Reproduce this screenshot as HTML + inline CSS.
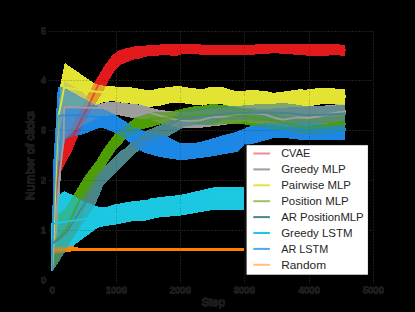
<!DOCTYPE html>
<html><head><meta charset="utf-8"><title>chart</title>
<style>
html,body{margin:0;padding:0;background:#000;}
body{width:415px;height:312px;overflow:hidden;font-family:"Liberation Sans",sans-serif;}
svg{display:block}
svg text{font-family:"Liberation Sans",sans-serif;}
</style></head><body>
<svg width="415" height="312" viewBox="0 0 415 312">
<defs>
<filter id="drop" color-interpolation-filters="sRGB" filterUnits="userSpaceOnUse" x="0" y="0" width="415" height="312">
<feComponentTransfer><feFuncA type="linear" slope="255" intercept="0"/></feComponentTransfer>
</filter>
<clipPath id="ax"><rect x="51.9" y="31.2" width="321.6" height="249.6"/></clipPath>
</defs>
<rect width="415" height="312" fill="#000"/>
<g filter="url(#drop)">
<g clip-path="url(#ax)" shape-rendering="crispEdges">
<polygon points="52.0,271.0 52.5,230.0 54.0,200.0 56.0,170.0 60.0,150.0 65.0,138.0 72.0,125.0 80.0,110.0 85.0,100.0 93.0,85.0 97.5,77.5 105.0,65.0 112.5,55.0 118.0,51.0 125.0,48.5 134.0,46.5 140.0,45.9 163.0,44.3 181.7,44.3 198.6,44.0 204.0,45.1 215.0,45.0 238.0,45.0 255.0,44.5 275.0,43.8 300.0,44.0 315.0,44.0 339.0,44.0 341.0,45.3 345.3,45.3 345.3,56.2 341.0,56.2 339.0,55.0 315.0,56.2 300.0,55.0 275.0,53.2 255.0,54.5 238.0,55.0 215.0,55.0 204.0,55.1 192.5,53.6 181.7,54.4 177.0,55.9 163.0,55.1 155.4,55.9 144.6,56.7 140.0,58.5 134.0,59.5 127.0,62.2 120.0,65.0 112.5,73.8 102.5,92.5 90.0,113.0 78.6,135.0 71.3,152.5 67.0,160.0 59.6,175.0 57.0,200.0 54.0,250.0 52.0,271.0" fill="#e41a1c" fill-opacity="0.5"/>
<polygon points="52.0,271.0 53.0,240.0 55.0,200.0 57.0,160.0 60.0,120.0 64.1,81.7 79.2,89.2 87.0,97.0 95.6,104.8 104.0,102.6 112.6,101.5 123.4,103.0 138.9,104.6 148.1,106.9 159.0,109.8 172.0,111.4 175.0,112.0 190.0,112.0 210.0,109.0 224.0,108.0 244.0,106.0 288.0,107.0 320.0,106.0 345.3,103.5 345.3,120.0 320.0,125.0 288.0,127.0 244.0,122.0 224.0,125.0 206.0,127.0 200.0,128.1 190.9,128.3 181.0,128.5 160.0,123.0 150.0,120.0 130.9,117.7 115.4,114.7 100.0,116.7 90.0,122.0 75.0,130.0 64.7,140.0 63.3,148.0 59.6,175.0 57.8,196.0 55.0,250.0 52.0,271.0" fill="#9e9e9e" fill-opacity="0.5"/>
<polygon points="52.0,271.0 53.0,230.0 55.0,180.0 57.0,135.0 59.0,104.0 60.5,84.0 64.8,63.0 80.0,73.5 95.0,83.8 103.0,85.5 110.0,86.2 117.3,86.7 131.0,87.4 149.7,90.5 159.0,88.2 172.0,86.7 178.2,85.9 187.4,87.4 202.9,89.3 209.0,87.1 222.9,87.1 236.0,91.3 238.0,91.2 249.9,90.2 256.0,90.2 266.9,91.3 273.0,92.8 282.3,91.8 293.1,90.2 300.0,89.3 305.0,89.7 310.0,89.3 319.0,87.9 334.6,87.9 336.0,89.0 345.3,89.0 345.3,105.4 334.0,104.2 320.0,104.5 308.0,106.5 300.0,106.7 290.0,107.3 282.3,107.8 266.9,109.0 251.4,108.3 244.0,107.5 236.0,107.5 229.1,106.7 221.4,104.1 210.6,103.6 202.9,105.6 190.5,104.4 181.3,102.9 172.0,102.9 157.4,106.3 148.1,106.7 138.9,104.4 123.4,102.9 112.6,101.0 104.0,102.1 95.6,104.8 80.0,106.5 64.8,107.5 60.0,130.0 58.0,170.0 56.0,220.0 54.0,255.0 52.0,271.0" fill="#e4e433" fill-opacity="0.5"/>
<polygon points="52.0,230.0 56.7,214.5 65.3,208.7 72.9,196.0 84.9,176.0 96.0,161.5 103.5,149.0 117.0,130.9 128.5,123.1 135.5,117.5 146.3,114.0 154.0,112.0 160.0,111.7 169.3,111.9 175.4,110.3 181.3,109.0 190.9,106.8 195.1,106.2 203.0,105.8 211.0,104.2 224.0,104.8 238.0,107.0 255.0,110.0 270.0,113.0 288.0,116.0 303.0,117.5 320.0,117.6 334.0,116.5 345.3,116.0 345.3,132.0 334.0,132.5 320.0,133.7 303.0,134.0 288.0,132.0 275.0,130.0 264.0,128.0 254.9,126.5 244.0,124.2 224.0,123.5 211.0,125.5 200.0,124.0 190.0,122.5 180.0,122.0 167.0,123.5 160.0,124.5 154.6,126.0 141.7,129.3 126.2,138.6 116.0,149.5 105.4,165.6 98.9,176.0 87.2,203.0 80.0,226.0 68.0,245.0 58.0,261.5 52.0,271.5" fill="#4e9e05" fill-opacity="0.5"/>
<polygon points="52.0,232.0 60.0,226.0 70.0,214.0 80.2,199.0 89.8,186.0 95.8,176.0 105.4,165.6 122.0,150.0 125.5,148.0 133.2,140.1 146.3,130.9 164.0,123.1 175.0,115.0 181.0,111.0 200.0,108.0 211.0,107.0 224.0,106.5 236.0,106.2 245.3,105.2 259.1,104.1 282.3,103.3 290.0,103.6 300.0,105.2 308.0,106.5 318.0,105.7 334.0,105.7 345.3,104.8 345.3,122.0 320.0,123.0 303.0,123.5 288.0,123.0 270.0,121.5 244.0,120.0 224.0,120.0 211.0,124.5 200.0,125.0 186.0,126.0 180.0,129.6 167.7,136.6 160.0,138.4 149.0,144.0 134.0,154.0 132.0,156.4 112.4,176.0 103.0,186.0 95.0,205.7 75.7,234.0 65.3,251.6 52.5,271.5 52.0,271.5" fill="#4a8589" fill-opacity="0.5"/>
<polygon points="52.0,271.0 52.5,210.0 53.3,200.0 57.8,195.3 64.2,191.2 72.7,195.0 83.1,200.9 93.5,204.9 98.2,206.6 108.0,206.6 112.5,204.8 134.0,201.0 146.5,200.0 150.0,198.5 159.0,197.2 181.0,194.8 214.0,187.2 238.0,187.0 285.0,187.0 345.3,187.0 345.3,212.0 285.0,212.0 238.0,210.0 214.0,209.8 181.0,215.5 159.0,217.5 152.0,219.0 146.5,220.5 134.0,221.0 115.0,224.8 108.0,225.7 100.0,227.0 95.0,229.5 92.0,232.0 65.3,251.6 52.5,251.0 52.0,271.0" fill="#1cc8e2" fill-opacity="0.5"/>
<polygon points="52.0,271.0 52.6,196.0 53.2,164.0 55.5,128.0 56.0,116.0 57.8,87.0 64.1,87.5 84.0,98.6 95.6,104.8 101.0,108.3 107.1,110.6 115.4,114.7 121.6,119.3 128.5,123.1 134.0,127.0 150.0,133.0 160.0,135.0 167.7,136.6 180.0,142.8 190.9,143.5 200.0,142.0 211.0,138.9 224.0,135.0 233.3,132.7 244.0,128.9 247.1,127.0 254.9,125.0 264.1,123.5 288.0,122.5 303.0,123.0 317.0,122.6 326.6,125.0 345.3,123.3 345.3,140.3 320.0,140.5 303.0,140.0 288.0,138.4 275.0,137.8 259.5,142.0 244.0,146.0 238.0,151.8 209.0,156.8 181.0,160.4 159.0,156.8 145.0,153.0 135.5,148.0 127.8,140.9 115.4,133.2 106.0,129.0 100.0,127.7 86.7,132.9 77.4,135.8 69.3,137.0 65.3,139.6 60.7,164.0 57.0,196.0 55.0,230.0 52.0,271.0" fill="#1c87e6" fill-opacity="0.5"/>
<polygon points="52.0,247.5 62.0,247.0 71.8,246.0 80.0,248.0 345.3,248.0 345.3,251.2 80.0,251.2 71.8,251.4 62.0,252.5 52.0,253.0" fill="#ff7f00" fill-opacity="0.5"/>
</g>
<g stroke="#1c1c1c" stroke-width="0.14" stroke-dasharray="1.6 1.4" fill="none">
<line x1="116.5" y1="31" x2="116.5" y2="284"/>
<line x1="180.5" y1="31" x2="180.5" y2="284"/>
<line x1="244.5" y1="31" x2="244.5" y2="284"/>
<line x1="309.5" y1="31" x2="309.5" y2="284"/>
<line x1="373.5" y1="31" x2="373.5" y2="284"/>
<line x1="49.5" y1="230.5" x2="374" y2="230.5"/>
<line x1="49.5" y1="180.5" x2="374" y2="180.5"/>
<line x1="49.5" y1="130.5" x2="374" y2="130.5"/>
<line x1="49.5" y1="80.5" x2="374" y2="80.5"/>
<line x1="49.5" y1="31.5" x2="374" y2="31.5"/>
</g>
<g clip-path="url(#ax)" fill="none" stroke-width="1.8" stroke-linejoin="round">
<polyline points="52.0,271.0 53.5,230.0 56.0,190.0 60.0,162.0 66.0,148.0 72.5,137.0 90.3,102.0 98.0,85.3 105.0,73.0 112.0,64.0 120.0,57.5 127.0,55.0 134.0,54.0 165.0,50.5 196.0,48.7 238.0,50.0 275.0,48.5 315.0,50.0 346.0,50.0" stroke="#e41a1c" stroke-opacity="0.5"/>
<polyline points="52.0,271.0 54.0,245.0 56.0,232.0 58.0,196.0 59.6,175.0 63.6,140.0 64.4,107.0 100.0,108.0 134.0,108.0 160.0,115.7 175.4,119.6 180.0,120.4 190.9,121.1 200.0,120.4 211.0,117.3 224.0,116.5 233.3,115.0 244.0,113.4 254.9,113.4 264.0,114.2 275.0,118.0 282.6,119.6 288.0,118.8 297.3,117.3 308.0,118.0 318.9,116.5 328.0,114.2 339.0,112.2 346.0,111.6" stroke="#9e9e9e" stroke-opacity="1"/>
<polyline points="52.0,271.0 54.0,230.0 56.0,170.0 57.8,119.0 61.0,104.0 64.1,87.5 80.0,90.0 100.0,92.0 134.0,95.0 181.0,94.0 238.0,98.0 285.0,97.0 346.0,96.5" stroke="#e4e433" stroke-opacity="1"/>
<polyline points="53.2,242.4 58.0,238.0 63.0,232.5 65.9,230.0 81.5,196.0 96.0,170.0 110.0,150.0 125.0,132.0 140.0,122.0 150.0,119.0 165.0,118.0 181.0,117.0 200.0,115.0 224.0,115.0 244.0,116.0 264.0,119.0 288.0,123.5 303.4,128.4 311.6,128.0 323.0,126.2 334.7,124.5 346.0,123.9" stroke="#4e9e05" stroke-opacity="0.6"/>
<polyline points="52.6,243.6 58.0,240.0 66.7,232.0 86.2,201.2 100.0,182.0 115.0,164.0 134.0,145.0 150.0,133.0 166.0,126.0 181.0,119.0 200.0,117.0 224.0,114.0 244.0,113.0 270.0,112.5 288.0,113.0 303.0,115.0 320.0,115.0 346.0,113.5" stroke="#4a8589" stroke-opacity="1"/>
<polyline points="52.0,271.0 52.6,223.7 83.8,219.1 100.0,216.0 134.0,211.0 181.0,205.0 214.0,198.5 238.0,198.5 346.0,199.0" stroke="#1cc8e2" stroke-opacity="1"/>
<polyline points="52.0,271.0 54.0,200.0 56.0,150.0 57.8,119.0 58.4,115.6 77.4,115.0 100.0,117.3 120.0,126.0 134.0,139.0 159.0,146.0 181.0,151.0 209.0,149.0 224.0,142.0 244.0,137.0 264.0,133.0 288.0,130.5 303.0,129.7 317.3,130.9 329.0,130.3 346.0,129.7" stroke="#1c87e6" stroke-opacity="0.75"/>
<polyline points="52.5,250.0 71.8,248.8 80.0,249.8 346.0,249.8" stroke="#ff7f00" stroke-opacity="0.5"/>
</g>
<g fill="#1c1c1c" font-size="8.5" stroke="#1c1c1c" stroke-width="0.7" stroke-linejoin="round">
<text x="52.3" y="293.2" text-anchor="middle" textLength="5.3" lengthAdjust="spacingAndGlyphs">0</text>
<text x="116.3" y="293.2" text-anchor="middle" textLength="21.2" lengthAdjust="spacingAndGlyphs">1000</text>
<text x="180.3" y="293.2" text-anchor="middle" textLength="21.2" lengthAdjust="spacingAndGlyphs">2000</text>
<text x="244.3" y="293.2" text-anchor="middle" textLength="21.2" lengthAdjust="spacingAndGlyphs">3000</text>
<text x="309.3" y="293.2" text-anchor="middle" textLength="21.2" lengthAdjust="spacingAndGlyphs">4000</text>
<text x="373.3" y="293.2" text-anchor="middle" textLength="21.2" lengthAdjust="spacingAndGlyphs">5000</text>
<text x="46" y="283.4" text-anchor="end" textLength="5.1" lengthAdjust="spacingAndGlyphs">0</text>
<text x="46" y="233.4" text-anchor="end" textLength="5.1" lengthAdjust="spacingAndGlyphs">1</text>
<text x="46" y="183.4" text-anchor="end" textLength="5.1" lengthAdjust="spacingAndGlyphs">2</text>
<text x="46" y="133.4" text-anchor="end" textLength="5.1" lengthAdjust="spacingAndGlyphs">3</text>
<text x="46" y="83.4" text-anchor="end" textLength="5.1" lengthAdjust="spacingAndGlyphs">4</text>
<text x="46" y="34.4" text-anchor="end" textLength="5.1" lengthAdjust="spacingAndGlyphs">5</text>
<text x="213.3" y="306" text-anchor="middle" font-size="10.6" textLength="23.4" lengthAdjust="spacingAndGlyphs">Step</text>
<text transform="translate(34.4,155.6) rotate(-90)" text-anchor="middle" font-size="10.6" textLength="88.6" lengthAdjust="spacingAndGlyphs">Number of clicks</text>
</g>
</g>
<rect x="244" y="144.4" width="124.6" height="131" fill="#0c0c0c"/>
<rect x="246.6" y="145.2" width="121.3" height="129.5" fill="#fff"/>
<g font-size="10.8" fill="#262626">
<line x1="253.3" y1="153.5" x2="269.9" y2="153.5" stroke="#e41a1c" stroke-opacity="0.5" stroke-width="2"/>
<text x="281.2" y="157.4" textLength="29.1" lengthAdjust="spacingAndGlyphs">CVAE</text>
<line x1="253.3" y1="169.4" x2="269.9" y2="169.4" stroke="#9e9e9e" stroke-opacity="1" stroke-width="2"/>
<text x="281.2" y="173.3" textLength="64.5" lengthAdjust="spacingAndGlyphs">Greedy MLP</text>
<line x1="253.3" y1="185.3" x2="269.9" y2="185.3" stroke="#e4e433" stroke-opacity="1" stroke-width="2"/>
<text x="281.2" y="189.2" textLength="69.8" lengthAdjust="spacingAndGlyphs">Pairwise MLP</text>
<line x1="253.3" y1="201.2" x2="269.9" y2="201.2" stroke="#4e9e05" stroke-opacity="0.6" stroke-width="2"/>
<text x="281.2" y="205.1" textLength="67.6" lengthAdjust="spacingAndGlyphs">Position MLP</text>
<line x1="253.3" y1="217.1" x2="269.9" y2="217.1" stroke="#4a8589" stroke-opacity="1" stroke-width="2"/>
<text x="281.2" y="221.0" textLength="82.5" lengthAdjust="spacingAndGlyphs">AR PositionMLP</text>
<line x1="253.3" y1="233.0" x2="269.9" y2="233.0" stroke="#1cc8e2" stroke-opacity="1" stroke-width="2"/>
<text x="281.2" y="236.9" textLength="71.4" lengthAdjust="spacingAndGlyphs">Greedy LSTM</text>
<line x1="253.3" y1="248.9" x2="269.9" y2="248.9" stroke="#1c87e6" stroke-opacity="0.75" stroke-width="2"/>
<text x="281.2" y="252.8" textLength="47.0" lengthAdjust="spacingAndGlyphs">AR LSTM</text>
<line x1="253.3" y1="264.8" x2="269.9" y2="264.8" stroke="#ff7f00" stroke-opacity="0.5" stroke-width="2"/>
<text x="281.2" y="268.7" textLength="44.9" lengthAdjust="spacingAndGlyphs">Random</text>
</g>
</svg>
</body></html>
